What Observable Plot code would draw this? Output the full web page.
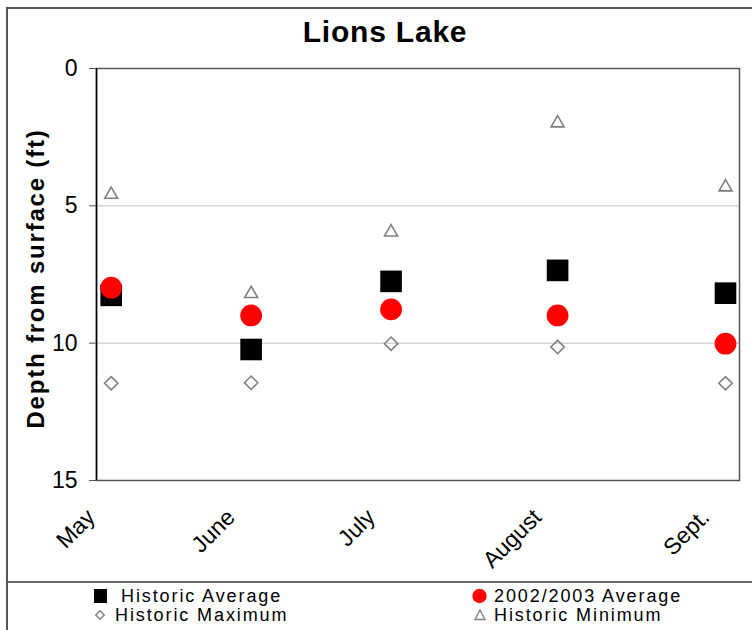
<!DOCTYPE html>
<html>
<head>
<meta charset="utf-8">
<script src="https://cdn.jsdelivr.net/npm/d3@7"></script>
<script src="https://cdn.jsdelivr.net/npm/@observablehq/plot@0.6"></script>
<style>
  html, body { margin: 0; padding: 0; background: #fff; }
  #wrap { position: relative; width: 752px; height: 630px; overflow: hidden; font-family: "Liberation Sans", Arial, sans-serif; background: #fff; }
  #border { position: absolute; left: 6px; top: 7px; width: 900px; height: 900px; border-left: 2px solid #555; border-top: 2px solid #555; }
  #sep { position: absolute; left: 7px; top: 581px; width: 760px; height: 0; border-top: 2px solid #666; }
  #title { position: absolute; left: 0; width: 770px; top: 15px; text-align: center; font-weight: bold; font-size: 30px; letter-spacing: 0.8px; }
  #chart { position: absolute; left: 0; top: 0; }
  .leg { position: absolute; font-size: 18px; letter-spacing: 1.9px; line-height: 20px; white-space: nowrap; }
</style>
</head>
<body>
<div id="wrap">
  <div id="border"></div>
  <div id="sep"></div>
  <div id="title"></div>
  <div id="chart"></div>
  <div id="legend"></div>
</div>
<script>
const title = "Lions Lake";
const yLabel = "Depth from surface (ft)";
const months = ["May", "June", "July", "August", "Sept."];
const monthPos = [0, 1, 2, 3.19, 4.39];
const historicAvg = [8.26, 10.23, 7.75, 7.35, 8.18];
const avg2002 = [7.98, 8.99, 8.77, 8.99, 10.02];
const historicMax = [11.46, 11.44, 10.02, 10.14, 11.46];
const historicMin = [4.59, 8.2, 5.96, 1.99, 4.32];
const yTicks = [0, 5, 10, 15];
const seriesNames = ["Historic Average", "2002/2003 Average", "Historic Maximum", "Historic Minimum"];

document.getElementById("title").textContent = title;

const rows = months.map((m, i) => ({
  month: m, x: monthPos[i],
  avg: historicAvg[i], cur: avg2002[i], max: historicMax[i], min: historicMin[i]
}));

const chart = Plot.plot({
  width: 752,
  height: 582,
  marginLeft: 96,
  marginRight: 13,
  marginTop: 68,
  marginBottom: 102,
  style: { fontFamily: "'Liberation Sans', Arial, sans-serif", background: "transparent", overflow: "visible" },
  x: { domain: [-0.105, 4.49], axis: null },
  y: { domain: [0, 15], reverse: true, axis: null },
  marks: [
    Plot.ruleY([5, 10], { stroke: "#c0c0c0", strokeWidth: 1 }),
    Plot.frame({ stroke: "#555", strokeWidth: 1.5 }),
    Plot.ruleX([-0.105], { stroke: "#000", strokeWidth: 1.5 }),
    Plot.axisY(yTicks, { tickSize: 7, tickPadding: 12, fontSize: 23, stroke: "#555", fill: "#000", label: null }),
    Plot.text([yLabel], { frameAnchor: "left", textAnchor: "middle", lineAnchor: "middle", dx: -60, dy: 4, rotate: -90, fontSize: 24, fontWeight: "bold" }),
    Plot.text(rows, { x: "x", text: "month", frameAnchor: "bottom", dx: -20, dy: 33, rotate: -45, textAnchor: "end", lineAnchor: "middle", fontSize: 23 }),
    Plot.dot(rows, { x: "x", y: "avg", symbol: "square", r: 12.2, fill: "#000" }),
    Plot.dot(rows, { x: "x", y: "cur", symbol: "circle", r: 10.9, fill: "#ff0000" }),
    Plot.dot(rows, { x: "x", y: "max", symbol: "diamond2", r: 6, stroke: "#808080", strokeWidth: 1.6, fill: "none" }),
    Plot.dot(rows, { x: "x", y: "min", symbol: "triangle2", r: 6.2, stroke: "#808080", strokeWidth: 1.6, fill: "none" })
  ]
});
d3.select(chart).selectAll("text").filter(function () { return this.textContent === yLabel; }).style("letter-spacing", "1.8px");
document.getElementById("chart").appendChild(chart);

// legend
const legend = document.getElementById("legend");
const legItems = [
  { name: seriesNames[0], left: 121, top: 586, sym: `<rect x="0" y="0" width="13" height="14" fill="#000"/>`, sx: 94, sy: 589, w: 14, h: 14 },
  { name: seriesNames[1], left: 494, top: 586, sym: `<circle cx="7.5" cy="8" r="7.2" fill="#ff0000"/>`, sx: 472, sy: 588, w: 16, h: 16 },
  { name: seriesNames[2], left: 115, top: 605, sym: `<path d="M5,0.8L9.2,5L5,9.2L0.8,5Z" fill="none" stroke="#808080" stroke-width="1.4"/>`, sx: 95, sy: 610, w: 10, h: 10 },
  { name: seriesNames[3], left: 494, top: 605, sym: `<path d="M6,1L11,10.5L1,10.5Z" fill="none" stroke="#808080" stroke-width="1.4"/>`, sx: 474, sy: 609, w: 12, h: 12 }
];
for (const it of legItems) {
  const t = document.createElement("div");
  t.className = "leg";
  t.style.left = it.left + "px";
  t.style.top = it.top + "px";
  t.textContent = it.name;
  legend.appendChild(t);
  const s = document.createElement("div");
  s.className = "leg";
  s.style.left = it.sx + "px";
  s.style.top = it.sy + "px";
  s.innerHTML = `<svg width="${it.w}" height="${it.h}" style="display:block">${it.sym}</svg>`;
  legend.appendChild(s);
}
</script>
</body>
</html>
